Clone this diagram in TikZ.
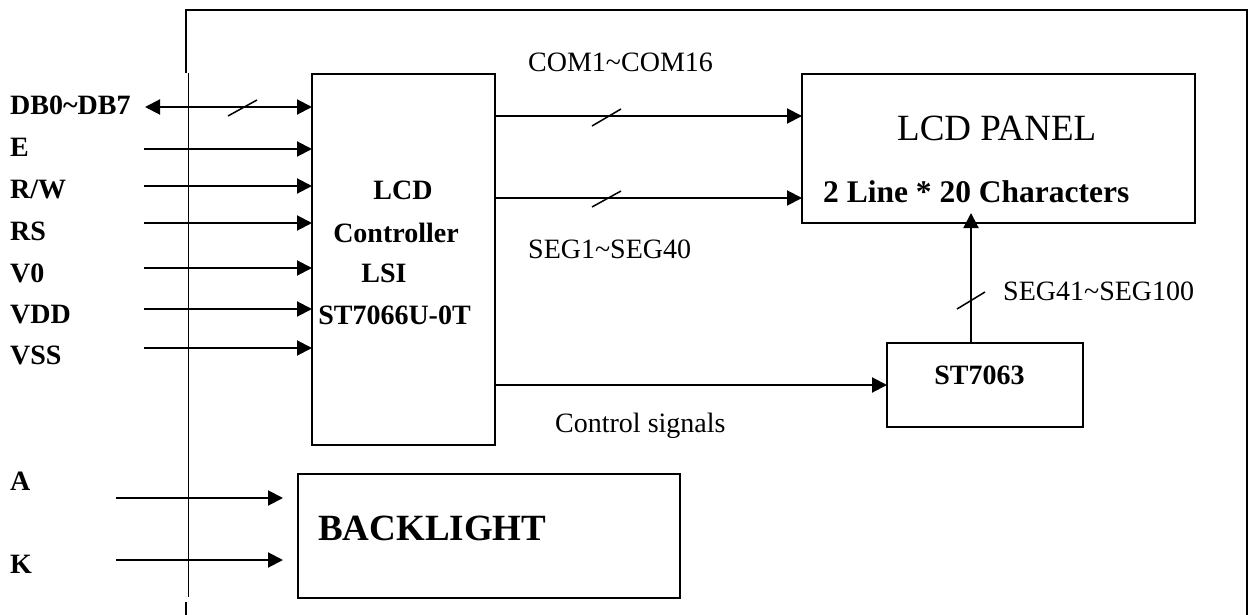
\documentclass[tikz,border=0pt]{standalone}
\usepackage{fontspec}
\setmainfont{Liberation Serif}
\usetikzlibrary{arrows.meta}
\begin{document}
\begin{tikzpicture}[x=1pt,y=-1pt,
  box/.style={draw,line width=2pt,inner sep=0pt,outer sep=0pt,rectangle},
  sig/.style={line width=2pt,-{Triangle[length=15pt,width=15pt]}},
  bus/.style={line width=2pt,{Triangle[length=15pt,width=15pt]}-{Triangle[length=15pt,width=15pt]}},
  slashmark/.style={line width=1.5pt},
  pin/.style={font=\fontsize{28}{30}\selectfont\bfseries,anchor=base west,inner sep=0pt},
  txt/.style={font=\fontsize{28}{30}\selectfont,anchor=base west,inner sep=0pt},
  btxt/.style={font=\fontsize{28}{30}\selectfont\bfseries,anchor=base,inner sep=0pt},
  frameline/.style={line width=2pt},
]
\useasboundingbox (0,0) rectangle (1252,615);

% outer frame
\draw[frameline] (186,73) -- (186,10) -- (1247,10) -- (1247,615);
\draw[line width=1pt] (188,73) -- (188,597);
\draw[frameline] (186,602) -- (186,615);

% boxes
\node[box,minimum width=183pt,minimum height=371pt] (ctrl) at (403.5,259.5) {};
\node[box,minimum width=393pt,minimum height=149pt] (panel) at (998.5,148.5) {};
\node[box,minimum width=196pt,minimum height=84pt] (st) at (985,385) {};
\node[box,minimum width=382pt,minimum height=124pt] (bl) at (489,536) {};

% texts in boxes
\node[btxt] (t1) at (403,199) {LCD};
\node[btxt] (t2) at (396,242) {Controller};
\node[btxt] (t3) at (384,282) {LSI};
\node[btxt] (t4) at (394.5,324) {ST7066U-0T};
\node[txt,font=\fontsize{37}{40}\selectfont] (tpanel) at (897,140) {LCD PANEL};
\node[pin,font=\fontsize{31.5}{34}\selectfont\bfseries] (tchars) at (823,202) {2 Line * 20 Characters};
\node[btxt] (tst) at (979.5,384) {ST7063};
\node[pin,font=\fontsize{37}{40}\selectfont\bfseries] (tbl) at (318,540) {BACKLIGHT};

% pin labels
\node[pin] (lDB) at (10,115) {DB0\textasciitilde DB7};
\node[pin] (lE) at (10,157) {E};
\node[pin] (lRW) at (10,198) {R/W};
\node[pin] (lRS) at (10,240) {RS};
\node[pin] (lV0) at (10,282) {V0};
\node[pin] (lVDD) at (10,323) {VDD};
\node[pin] (lVSS) at (10,364) {VSS};
\node[pin] (lA) at (10,490) {A};
\node[pin] (lK) at (10,573) {K};

% pin connectors
\coordinate (cDB) at (145,107);
\coordinate (cE) at (144,149);
\coordinate (cRW) at (144,186);
\coordinate (cRS) at (144,223);
\coordinate (cV0) at (144,268);
\coordinate (cVDD) at (144,309);
\coordinate (cVSS) at (144,348);
\draw[bus] (cDB) -- (cDB -| ctrl.west);
\draw[slashmark] (228,116) -- (257,100);
\foreach \p in {cE,cRW,cRS,cV0,cVDD,cVSS}{
  \draw[sig] (\p) -- (\p -| ctrl.west);
}
\coordinate (cA) at (116,498);
\coordinate (cK) at (116,560);
\coordinate (eA) at (283,498);
\coordinate (eK) at (283,560);
\draw[sig] (cA) -- (eA);
\draw[sig] (cK) -- (eK);

% controller outputs
\coordinate (ycom) at (0,116);
\coordinate (yseg) at (0,198);
\coordinate (yctl) at (0,385);
\draw[sig] (ctrl.east |- ycom) -- (panel.west |- ycom);
\draw[slashmark] (592,126) -- (621,109);
\draw[sig] (ctrl.east |- yseg) -- (panel.west |- yseg);
\draw[slashmark] (592,207) -- (621,191);
\draw[sig] (ctrl.east |- yctl) -- (st.west |- yctl);
\coordinate (vtip) at (971,213);
\draw[sig] (st.north -| vtip) -- (vtip);
\draw[slashmark] (957,309) -- (985,292);

% signal labels
\node[txt] (lcom) at (528,72) {COM1\textasciitilde COM16};
\node[txt] (lseg) at (528,258) {SEG1\textasciitilde SEG40};
\node[txt] (lseg2) at (1003,300) {SEG41\textasciitilde SEG100};
\node[txt] (lctl) at (555,432) {Control signals};
\end{tikzpicture}
\end{document}
